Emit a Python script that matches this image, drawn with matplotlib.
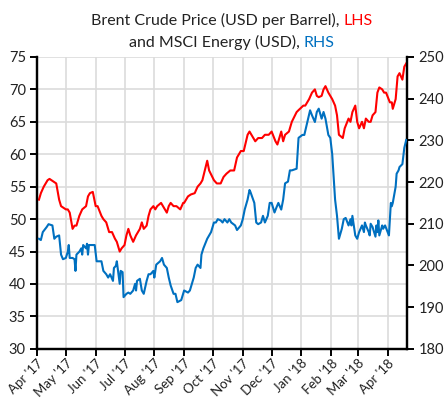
import numpy as np
import pandas as pd
import matplotlib
matplotlib.use('Agg')
import matplotlib.pyplot as plt
import matplotlib.dates as mdates

plt.rcParams['font.family'] = ['Lato', 'DejaVu Sans']

# Brent crude (USD per barrel), left axis
brent_dates = ['2017-04-03', '2017-04-05', '2017-04-08', '2017-04-12', '2017-04-14', '2017-04-18',
               '2017-04-21', '2017-04-24', '2017-04-26', '2017-04-28', '2017-05-01', '2017-05-03',
               '2017-05-05', '2017-05-08', '2017-05-10', '2017-05-12', '2017-05-15', '2017-05-18',
               '2017-05-22', '2017-05-24', '2017-05-26', '2017-05-29', '2017-06-01', '2017-06-03',
               '2017-06-07', '2017-06-09', '2017-06-12', '2017-06-15', '2017-06-18', '2017-06-21',
               '2017-06-23', '2017-06-26', '2017-06-28', '2017-07-01', '2017-07-03', '2017-07-05',
               '2017-07-07', '2017-07-10', '2017-07-13', '2017-07-17', '2017-07-19', '2017-07-21',
               '2017-07-24', '2017-07-26', '2017-07-28', '2017-07-31', '2017-08-02', '2017-08-04',
               '2017-08-08', '2017-08-10', '2017-08-14', '2017-08-16', '2017-08-18', '2017-08-21',
               '2017-08-24', '2017-08-28', '2017-08-31', '2017-09-01', '2017-09-05', '2017-09-08',
               '2017-09-12', '2017-09-15', '2017-09-18', '2017-09-20', '2017-09-25', '2017-09-27',
               '2017-10-02', '2017-10-05', '2017-10-09', '2017-10-12', '2017-10-15', '2017-10-19',
               '2017-10-23', '2017-10-26', '2017-10-30', '2017-11-02', '2017-11-06', '2017-11-08',
               '2017-11-10', '2017-11-14', '2017-11-17', '2017-11-21', '2017-11-24', '2017-11-28',
               '2017-12-01', '2017-12-05', '2017-12-07', '2017-12-11', '2017-12-13', '2017-12-15',
               '2017-12-19', '2017-12-22', '2017-12-27', '2017-12-29', '2018-01-03', '2018-01-05',
               '2018-01-09', '2018-01-12', '2018-01-15', '2018-01-17', '2018-01-19', '2018-01-22',
               '2018-01-24', '2018-01-26', '2018-01-29', '2018-01-31', '2018-02-02', '2018-02-05',
               '2018-02-07', '2018-02-09', '2018-02-13', '2018-02-15', '2018-02-19', '2018-02-21',
               '2018-02-23', '2018-02-26', '2018-02-28', '2018-03-02', '2018-03-05', '2018-03-07',
               '2018-03-09', '2018-03-12', '2018-03-14', '2018-03-16', '2018-03-19', '2018-03-21',
               '2018-03-23', '2018-03-26', '2018-03-28', '2018-03-30', '2018-04-03', '2018-04-05',
               '2018-04-06', '2018-04-09', '2018-04-11', '2018-04-13', '2018-04-16', '2018-04-18',
               '2018-04-20']
brent = [53, 54, 55, 56, 56.2, 55.8, 55.5, 53, 52, 51.8, 51.5, 51.5,
         51, 48.5, 49, 49, 50.5, 51.5, 52, 53.5, 54, 54.2, 52, 52,
         50.5, 50, 49.5, 48, 48, 47, 46.5, 45, 45.5, 46, 47.5, 48.5,
         47.5, 46.5, 47.5, 48.5, 49.5, 48.5, 49, 50.5, 51.5, 52, 51.5, 52,
         52.5, 52, 51, 52, 52.5, 52, 52, 51.5, 52.5, 52.5, 53.5, 53.8,
         54, 55, 55.5, 56, 59, 57.5, 56, 55.5, 55.5, 56.5, 57, 57.5,
         57.5, 59.5, 60.5, 60.5, 63, 63.5, 63, 62, 62.5, 62.5, 63, 63,
         63.5, 62, 61.5, 63.5, 62, 63, 63.5, 65, 66.5, 66.8, 67.5, 67.5,
         68.5, 69.5, 70, 69, 68.8, 69, 70, 70.5, 69.5, 69, 68.5, 67.5,
         66, 63, 62.5, 64, 65.5, 65, 66.5, 67.5, 65, 64, 65, 64,
         65.5, 65, 65, 66, 66.5, 69.5, 70.3, 70, 69.5, 69.5, 68, 68,
         67, 68.5, 72, 72.5, 71.5, 73.5, 74]

# MSCI Energy (USD), right axis
msci_dates = ['2017-04-03', '2017-04-05', '2017-04-07', '2017-04-11', '2017-04-13', '2017-04-17',
              '2017-04-19', '2017-04-21', '2017-04-24', '2017-04-26', '2017-04-28', '2017-05-01',
              '2017-05-03', '2017-05-04', '2017-05-05', '2017-05-08', '2017-05-10', '2017-05-11',
              '2017-05-12', '2017-05-15', '2017-05-17', '2017-05-18', '2017-05-19', '2017-05-22',
              '2017-05-23', '2017-05-24', '2017-05-25', '2017-05-29', '2017-05-31', '2017-06-02',
              '2017-06-05', '2017-06-07', '2017-06-09', '2017-06-12', '2017-06-14', '2017-06-16',
              '2017-06-19', '2017-06-20', '2017-06-22', '2017-06-23', '2017-06-26', '2017-06-27',
              '2017-06-29', '2017-06-30', '2017-07-03', '2017-07-05', '2017-07-07', '2017-07-10',
              '2017-07-12', '2017-07-13', '2017-07-14', '2017-07-17', '2017-07-19', '2017-07-21',
              '2017-07-24', '2017-07-26', '2017-07-28', '2017-07-31', '2017-08-01', '2017-08-03',
              '2017-08-07', '2017-08-09', '2017-08-11', '2017-08-14', '2017-08-16', '2017-08-18',
              '2017-08-21', '2017-08-23', '2017-08-25', '2017-08-29', '2017-08-31', '2017-09-01',
              '2017-09-05', '2017-09-07', '2017-09-11', '2017-09-13', '2017-09-15', '2017-09-18',
              '2017-09-19', '2017-09-21', '2017-09-25', '2017-09-27', '2017-09-29', '2017-10-02',
              '2017-10-04', '2017-10-06', '2017-10-09', '2017-10-11', '2017-10-13', '2017-10-16',
              '2017-10-18', '2017-10-20', '2017-10-24', '2017-10-26', '2017-10-30', '2017-11-01',
              '2017-11-03', '2017-11-06', '2017-11-08', '2017-11-09', '2017-11-13', '2017-11-15',
              '2017-11-17', '2017-11-20', '2017-11-22', '2017-11-24', '2017-11-27', '2017-11-29',
              '2017-12-01', '2017-12-04', '2017-12-06', '2017-12-08', '2017-12-11', '2017-12-13',
              '2017-12-15', '2017-12-18', '2017-12-20', '2017-12-22', '2017-12-27', '2017-12-29',
              '2018-01-02', '2018-01-04', '2018-01-08', '2018-01-10', '2018-01-12', '2018-01-15',
              '2018-01-17', '2018-01-19', '2018-01-22', '2018-01-24', '2018-01-26', '2018-01-29',
              '2018-01-31', '2018-02-02', '2018-02-05', '2018-02-07', '2018-02-09', '2018-02-12',
              '2018-02-14', '2018-02-16', '2018-02-19', '2018-02-21', '2018-02-22', '2018-02-23',
              '2018-02-26', '2018-02-28', '2018-03-02', '2018-03-05', '2018-03-07', '2018-03-08',
              '2018-03-09', '2018-03-12', '2018-03-13', '2018-03-14', '2018-03-16', '2018-03-19',
              '2018-03-20', '2018-03-21', '2018-03-22', '2018-03-23', '2018-03-26', '2018-03-27',
              '2018-03-29', '2018-04-02', '2018-04-03', '2018-04-04', '2018-04-05', '2018-04-06',
              '2018-04-09', '2018-04-10', '2018-04-12', '2018-04-13', '2018-04-16', '2018-04-18',
              '2018-04-20']
msci = [206.4, 206.1, 208.0, 209.2, 209.9, 209.6, 206.4, 206.9, 207.2, 202.6, 201.5, 201.8,
        203.3, 204.9, 201.8, 201.8, 201.5, 198.7, 202.6, 203.3, 204.1, 202.6, 204.9, 204.1,
        205.2, 202.6, 204.9, 204.9, 204.9, 201.0, 201.0, 201.0, 198.7, 197.9, 197.1, 197.9,
        196.3, 199.4, 199.9, 201.0, 195.6, 198.7, 198.4, 192.4, 193.2, 193.5, 193.2, 194.0,
        195.6, 194.0, 196.3, 196.8, 194.0, 193.2, 196.3, 197.9, 197.9, 198.7, 197.1, 200.2,
        201.0, 201.8, 200.2, 199.4, 197.1, 195.2, 193.2, 193.2, 191.2, 191.7, 193.2, 194.0,
        193.5, 194.0, 197.1, 199.4, 200.2, 199.4, 202.6, 204.1, 206.4, 207.2, 208.0, 210.3,
        210.3, 211.1, 210.8, 210.3, 211.1, 210.3, 211.1, 210.3, 209.6, 208.5, 209.6, 211.1,
        213.4, 215.8, 218.1, 217.6, 215.0, 210.3, 209.9, 210.3, 211.9, 210.3, 211.9, 215.0,
        215.0, 212.7, 213.9, 215.0, 213.4, 215.8, 219.7, 220.1, 222.8, 222.8, 223.2, 230.6,
        231.3, 231.3, 235.2, 237.2, 236.0, 234.4, 236.8, 237.6, 235.2, 236.8, 235.2, 231.3,
        230.6, 226.7, 215.8, 211.9, 206.4, 208.8, 211.1, 211.4, 209.6, 211.1, 209.6, 211.9,
        207.2, 206.4, 208.0, 209.6, 208.0, 210.3, 209.6, 208.0, 207.2, 210.0, 209.2, 206.9,
        209.6, 208.0, 210.8, 207.2, 209.6, 208.8, 209.6, 207.2, 211.1, 215.0, 214.2, 215.0,
        218.9, 222.0, 222.8, 223.6, 224.3, 228.2, 230.1]

month_ticks = pd.date_range('2017-04-01', '2018-04-01', freq='MS')
month_labels = [d.strftime("%b '%y") for d in month_ticks]

RED = '#FF0000'
BLUE = '#0070C0'
GRID = '#DCDCDC'

fig = plt.figure(figsize=(4.46, 4.01), dpi=100)
ax = fig.add_axes([0.083, 0.13, 0.83, 0.728])
ax2 = ax.twinx()

ax.plot(pd.to_datetime(brent_dates), brent, color=RED, lw=1.5, zorder=3)
ax2.plot(pd.to_datetime(msci_dates), msci, color=BLUE, lw=1.5, zorder=3)

ax.set_xlim(pd.Timestamp('2017-04-01'), pd.Timestamp('2018-04-21'))
ax.set_ylim(30, 75)
ax2.set_ylim(180, 250)
ax.set_yticks(np.arange(30, 76, 5))
ax2.set_yticks(np.arange(180, 251, 10))
ax.set_xticks(month_ticks)
ax.set_xticklabels(month_labels, rotation=45, ha='right', rotation_mode='anchor')

# grid: vertical at month ticks, horizontal at left ticks
ax.grid(True, color=GRID, lw=1.2, zorder=0)
ax.set_axisbelow(True)

for a in (ax, ax2):
    a.spines['top'].set_visible(False)
    for s in ('left', 'right', 'bottom'):
        a.spines[s].set_linewidth(1.6)
        a.spines[s].set_color('black')
    a.tick_params(axis='both', direction='out', length=5, width=1.4,
                  labelsize=10.5, labelcolor='#222222', pad=3)
ax.tick_params(axis='x', labelsize=9.5, pad=1)

# two-line title with coloured LHS / RHS
def colored_line(y, parts):
    fig.canvas.draw()
    r = fig.canvas.get_renderer()
    texts = []
    for s, c in parts:
        texts.append(fig.text(0, y, s, color=c, fontsize=11.5, ha='left', va='baseline'))
    widths = [t.get_window_extent(r).width for t in texts]
    total = sum(widths)
    x = 0.52 * fig.bbox.width - total / 2
    for t, w in zip(texts, widths):
        t.set_x(x / fig.bbox.width)
        x += w

colored_line(0.937, [('Brent Crude Price (USD per Barrel), ', '#222222'), ('LHS', RED)])
colored_line(0.882, [('and MSCI Energy (USD), ', '#222222'), ('RHS', BLUE)])

fig.savefig('out.png', dpi=100)
